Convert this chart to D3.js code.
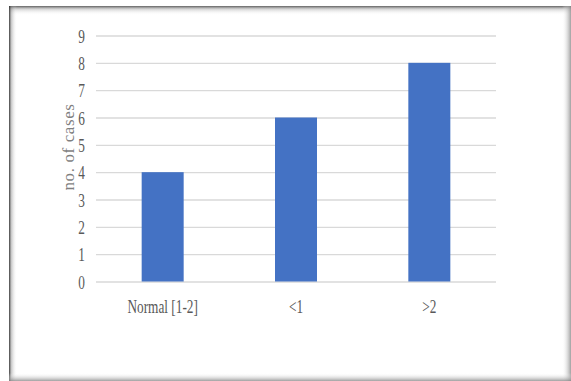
<!DOCTYPE html>
<html>
<head>
<meta charset="utf-8">
<script src="https://cdn.jsdelivr.net/npm/d3@7"></script>
<style>
  html, body { margin: 0; padding: 0; background: #ffffff; }
  svg { display: block; }
</style>
</head>
<body>
<div id="chart"></div>
<script>
// Case counts per group
const categories = ["Normal [1-2]", "<1", ">2"];
const cases = [4, 6, 8];
const yTicks = [0, 1, 2, 3, 4, 5, 6, 7, 8, 9];
const yTitle = "no. of cases";

const W = 571, H = 381;
const plot = { left: 96, right: 496, top: 35.5, bottom: 281.5 };
const textSquash = 0.7;   // narrow serif look of the labels

const svg = d3.select("#chart").append("svg")
  .attr("width", W).attr("height", H);

const defs = svg.append("defs");
function grad(id, x2, y2, stops) {
  const g = defs.append("linearGradient").attr("id", id)
    .attr("x1", 0).attr("y1", 0).attr("x2", x2).attr("y2", y2);
  stops.forEach(s => g.append("stop").attr("offset", s[0])
    .attr("stop-color", s[1]).attr("stop-opacity", s[2]));
}
grad("shTop", 0, 1, [[0, "#444", 0.85], [0.35, "#888", 0.35], [1, "#fff", 0]]);
grad("shLeft", 1, 0, [[0, "#222", 0.9], [0.3, "#777", 0.4], [1, "#fff", 0]]);
grad("shRight", 1, 0, [[0, "#fff", 0], [1, "#888", 0.8]]);
grad("shBottom", 0, 1, [[0, "#fff", 0], [1, "#888", 0.8]]);

// Frame with soft shadow edges
const frame = svg.append("g");
frame.append("rect").attr("x", 9).attr("y", 6).attr("width", W - 9).attr("height", H - 6).attr("fill", "#fff");
frame.append("rect").attr("x", 9).attr("y", 6).attr("width", W - 9).attr("height", 9).attr("fill", "url(#shTop)");
frame.append("rect").attr("x", 9).attr("y", 6).attr("width", 8).attr("height", H - 6).attr("fill", "url(#shLeft)");
frame.append("rect").attr("x", W - 9).attr("y", 6).attr("width", 9).attr("height", H - 6).attr("fill", "url(#shRight)");
frame.append("rect").attr("x", 9).attr("y", H - 8).attr("width", W - 9).attr("height", 8).attr("fill", "url(#shBottom)");

const x = d3.scaleBand().domain(categories).range([plot.left, plot.right]).padding(0);
const y = d3.scaleLinear().domain([0, 9]).range([plot.bottom, plot.top]);
const barW = x.bandwidth() * 0.315;

// Gridlines and y tick labels
const yAxis = svg.append("g")
  .attr("transform", `translate(${plot.left},0)`)
  .call(d3.axisLeft(y).tickValues(yTicks).tickSize(-(plot.right - plot.left)).tickFormat(d3.format("d")));
yAxis.select(".domain").remove();
yAxis.selectAll(".tick line").attr("stroke", "#d9d9d9").attr("stroke-width", 1.3);
yAxis.selectAll(".tick text")
  .attr("x", null).attr("dy", null)
  .attr("transform", `translate(-11,6.5) scale(${textSquash},1)`)
  .attr("text-anchor", "end")
  .attr("font-family", "'Liberation Serif', 'Times New Roman', serif")
  .attr("font-size", 19).attr("fill", "#595959");

// Bars
svg.append("g").selectAll("rect").data(categories).join("rect")
  .attr("x", (d) => x(d) + x.bandwidth() / 2 - barW / 2)
  .attr("width", barW)
  .attr("y", (d, i) => y(cases[i]))
  .attr("height", (d, i) => y(0) - y(cases[i]))
  .attr("fill", "#4472c4");

// Category labels
const xAxis = svg.append("g")
  .attr("transform", `translate(0,${plot.bottom})`)
  .call(d3.axisBottom(x).tickSize(0).tickPadding(0));
xAxis.select(".domain").remove();
xAxis.selectAll(".tick text")
  .attr("y", null).attr("dy", null)
  .attr("transform", `translate(0,31.5) scale(${textSquash},1)`)
  .attr("font-family", "'Liberation Serif', 'Times New Roman', serif")
  .attr("font-size", 19).attr("fill", "#595959");

// Y axis title
svg.append("text")
  .attr("transform", `translate(73.5,147) rotate(-90)`)
  .attr("text-anchor", "middle")
  .attr("font-family", "'Liberation Serif', 'Times New Roman', serif")
  .attr("font-size", 17).attr("letter-spacing", 0.6).attr("fill", "#7f7f7f")
  .text(yTitle);
</script>
</body>
</html>
